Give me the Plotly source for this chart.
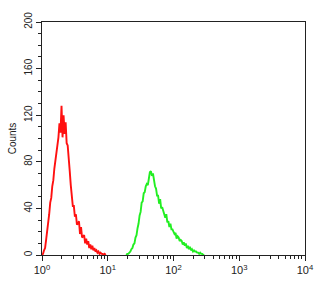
import plotly.graph_objects as go

# Flow cytometry histogram: 256 log channels across 4 decades (64 channels per decade)
channels_per_decade = 64

red_start_channel = 0
red_counts = [0, 1, 4, 6, 13, 19, 28, 35, 45, 49, 59, 64, 74, 80, 89, 94, 101, 113, 105, 128,
              101, 120, 104, 114, 96, 94, 77, 72, 60, 52, 42, 42, 33, 35, 26, 27, 29, 18, 24, 15,
              16, 17, 10, 14, 9, 12, 6, 9, 5, 8, 4, 6, 3, 4, 2, 3, 1, 2, 1, 1,
              0, 1, 0]

green_start_channel = 82
green_counts = [0, 1, 1, 2, 3, 5, 6, 9, 10, 15, 17, 23, 27, 34, 37, 45, 46, 53, 54, 59,
                61, 60, 65, 71, 72, 68, 70, 63, 59, 57, 51, 51, 44, 48, 40, 41, 37, 36, 32, 35,
                28, 29, 24, 27, 22, 22, 19, 18, 19, 14, 16, 15, 12, 13, 12, 9, 11, 8, 10, 6,
                8, 5, 7, 4, 5, 3, 4, 3, 3, 2, 2, 1, 2, 1, 1, 0, 0]

x_tick_vals = [1, 10, 100, 1000, 10000]
x_tick_text = ["10<sup>0</sup>", "10<sup>1</sup>", "10<sup>2</sup>", "10<sup>3</sup>", "10<sup>4</sup>"]
y_tick_vals = [0, 40, 80, 120, 160, 200]


def channel_values(start, n):
    return [10 ** ((start + i) / channels_per_decade) for i in range(n)]


red_x = channel_values(red_start_channel, len(red_counts))
green_x = channel_values(green_start_channel, len(green_counts))

fig = go.Figure()
fig.add_trace(go.Scatter(x=red_x, y=red_counts, mode="lines",
                         line=dict(color="#ff1010", width=1.9), showlegend=False))
fig.add_trace(go.Scatter(x=green_x, y=green_counts, mode="lines",
                         line=dict(color="#22ee22", width=1.9), showlegend=False))

font = dict(family="Liberation Sans, Arial, sans-serif", size=10, color="#222")

fig.update_layout(
    width=326, height=288,
    margin=dict(l=40, r=18, t=17, b=33),
    paper_bgcolor="white", plot_bgcolor="white",
    font=font,
)
fig.update_xaxes(
    type="log", range=[0, 4],
    tickvals=x_tick_vals, ticktext=x_tick_text,
    ticks="outside", ticklen=5, tickcolor="#222",
    showline=True, linecolor="#222", linewidth=1, mirror=True,
    showgrid=False, zeroline=False,
    minor=dict(ticks="outside", ticklen=3, tickcolor="#222", dtick="D1", showgrid=False),
    tickfont=dict(size=11),
)
fig.update_yaxes(
    range=[0, 200],
    tickvals=y_tick_vals, tickangle=-90,
    ticks="outside", ticklen=5, tickcolor="#222",
    showline=True, linecolor="#222", linewidth=1, mirror=True,
    showgrid=False, zeroline=False,
    minor=dict(ticks="outside", ticklen=3, tickcolor="#222", dtick=10, showgrid=False),
    title=dict(text="Counts", standoff=4, font=dict(size=10)),
)

fig.write_html("out.html")
